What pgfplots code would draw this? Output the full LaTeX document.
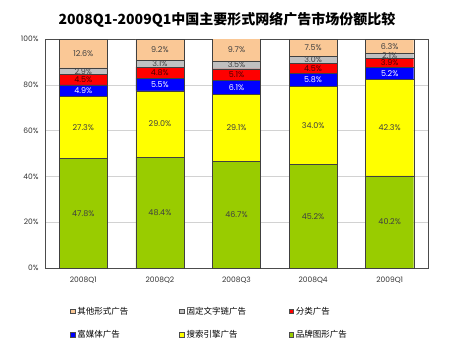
\documentclass[border=0pt]{standalone}
\usepackage{pgfplots}
\pgfplotsset{compat=1.18}
\usepackage{pgfplotstable}
\usepackage{fontspec}
\setmainfont{Poppins}
\newfontfamily\cjk{Noto Sans CJK SC}
\definecolor{cOther}{RGB}{250,200,150}
\definecolor{cText}{RGB}{192,192,192}
\definecolor{cClass}{RGB}{255,0,0}
\definecolor{cRich}{RGB}{0,0,255}
\definecolor{cSearch}{RGB}{255,255,0}
\definecolor{cBrand}{RGB}{153,204,0}
\pgfplotstableread{
x brand search rich class text other
0 47.8 27.3 4.9 4.5 2.9 12.6
1 48.4 29.0 5.5 4.8 3.1 9.2
2 46.7 29.1 6.1 5.1 3.5 9.7
3 45.2 34.0 5.8 4.5 3.0 7.5
4 40.2 42.3 5.2 3.9 2.1 6.3
}\data
% label positions: middle of each stacked segment
\pgfplotstablecreatecol[create col/expr={\thisrow{brand}/2}]{mbrand}\data
\pgfplotstablecreatecol[create col/expr={\thisrow{brand}+\thisrow{search}/2}]{msearch}\data
\pgfplotstablecreatecol[create col/expr={\thisrow{brand}+\thisrow{search}+\thisrow{rich}/2}]{mrich}\data
\pgfplotstablecreatecol[create col/expr={\thisrow{brand}+\thisrow{search}+\thisrow{rich}+\thisrow{class}/2}]{mclass}\data
\pgfplotstablecreatecol[create col/expr={\thisrow{brand}+\thisrow{search}+\thisrow{rich}+\thisrow{class}+\thisrow{text}/2}]{mtext}\data
\pgfplotstablecreatecol[create col/expr={\thisrow{brand}+\thisrow{search}+\thisrow{rich}+\thisrow{class}+\thisrow{text}+\thisrow{other}/2}]{mother}\data
\pgfplotsset{
  common/.style={at={(45pt,92pt)}, anchor=south west,
    scale only axis, width=383pt, height=229pt,
    xmin=-0.5, xmax=4.5, ymin=0, ymax=100,
    /pgf/number format/assume math mode=true},
}
\begin{document}
\begin{tikzpicture}
\useasboundingbox (0,0) rectangle (460pt,360pt);
\node[font=\cjk\bfseries\fontsize{14}{16}\selectfont] at (227pt,340pt) {2008Q1-2009Q1中国主要形式网络广告市场份额比较};
\begin{axis}[
  common,
  ybar stacked, bar width=0.627,
  xtick={0,1,2,3,4},
  xticklabels={2008Q1,2008Q2,2008Q3,2008Q4,2009Q1},
  ytick={0,20,40,60,80,100},
  yticklabel={\pgfmathprintnumber{\tick}\%},
  ymajorgrids, grid style={gray!35, line width=0.6pt},
  major tick length=0pt,
  axis line style={black!70, line width=0.7pt},
  tick label style={font=\fontsize{7.5}{8}\selectfont, text=black!80},
  xticklabel style={yshift=-5pt},
  yticklabel style={xshift=-3pt},
  legend columns=3,
  legend style={at={(0.065,-0.16)}, anchor=north west, draw=none, fill=none,
    font=\cjk\fontsize{8.5}{10}\selectfont, row sep=11pt, inner sep=0pt},
  legend cell align=left,
  sq/.style={legend image code/.code={\draw[##1,draw=black!70,line width=0.5pt] (0pt,-2.4pt) rectangle (4.8pt,2.4pt);}},
]
\addplot[forget plot, fill=cBrand, draw=black!75] table[x=x, y=brand] {\data};
\addplot[forget plot, fill=cSearch, draw=black!75] table[x=x, y=search] {\data};
\addplot[forget plot, fill=cRich, draw=black!75] table[x=x, y=rich] {\data};
\addplot[forget plot, fill=cClass, draw=black!75] table[x=x, y=class] {\data};
\addplot[forget plot, fill=cText, draw=black!75] table[x=x, y=text] {\data};
\addplot[forget plot, fill=cOther, draw=black!75] table[x=x, y=other] {\data};
\addlegendimage{sq, fill=cOther}
\addlegendentry{\makebox[100pt][l]{其他形式广告}}
\addlegendimage{sq, fill=cText}
\addlegendentry{\makebox[100pt][l]{固定文字链广告}}
\addlegendimage{sq, fill=cClass}
\addlegendentry{\makebox[100pt][l]{分类广告}}
\addlegendimage{sq, fill=cRich}
\addlegendentry{\makebox[100pt][l]{富媒体广告}}
\addlegendimage{sq, fill=cSearch}
\addlegendentry{\makebox[100pt][l]{搜索引擎广告}}
\addlegendimage{sq, fill=cBrand}
\addlegendentry{\makebox[100pt][l]{品牌图形广告}}
\end{axis}
\begin{axis}[
  common, hide axis,
  point meta=explicit,
  nodes near coords={\pgfmathprintnumber[fixed,fixed zerofill,precision=1]{\pgfplotspointmeta}\%},
  nodes near coords align=center,
  every node near coord/.append style={font=\fontsize{8}{9}\selectfont, text=black!75, anchor=center, inner sep=0pt},
]
\addplot[draw=none, mark=none] table[x=x, y=mbrand, meta=brand] {\data};
\addplot[draw=none, mark=none] table[x=x, y=msearch, meta=search] {\data};
\addplot[draw=none, mark=none, every node near coord/.append style={text=white}] table[x=x, y=mrich, meta=rich] {\data};
\addplot[draw=none, mark=none, every node near coord/.append style={text=black!70!red}] table[x=x, y=mclass, meta=class] {\data};
\addplot[draw=none, mark=none] table[x=x, y=mtext, meta=text] {\data};
\addplot[draw=none, mark=none] table[x=x, y=mother, meta=other] {\data};
\end{axis}
\end{tikzpicture}
\end{document}
